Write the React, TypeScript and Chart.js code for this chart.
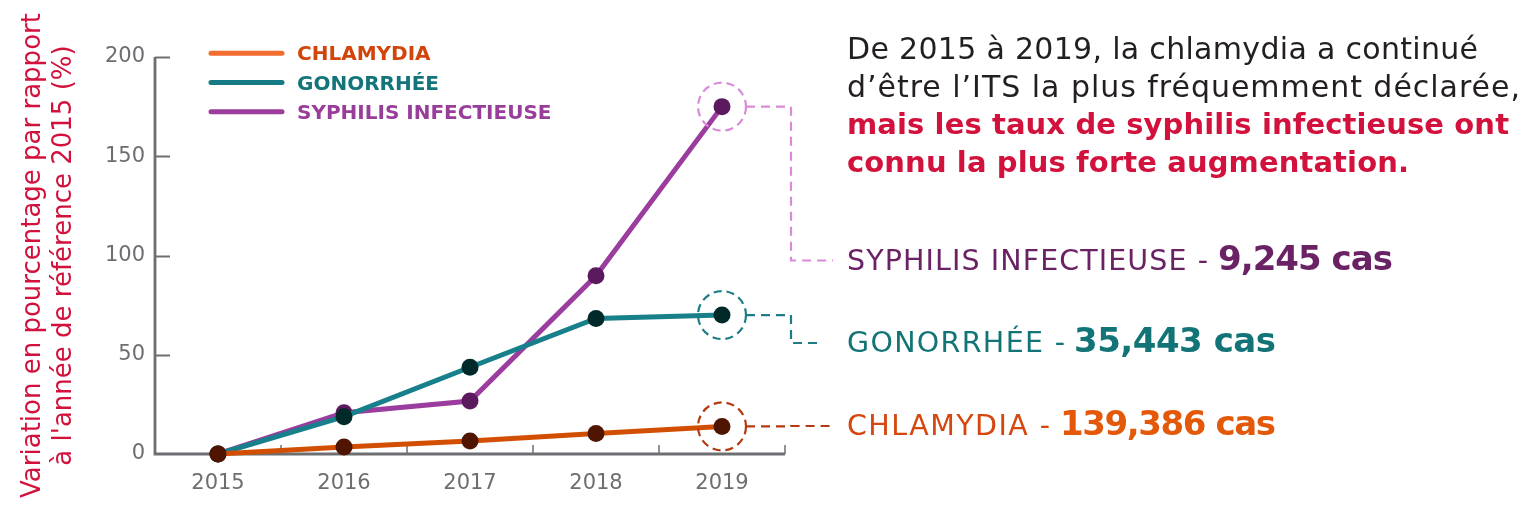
import React, { useEffect, useRef } from "react";
import { Chart, registerables } from "chart.js";

Chart.register(...registerables);

// ---------- data ----------
const years = ["2015", "2016", "2017", "2018", "2019"];
const seriesNames = ["CHLAMYDIA", "GONORRHÉE", "SYPHILIS INFECTIEUSE"];
const chlamydia = [0, 3.5, 6.5, 10.3, 13.9];
const gonorrhee = [0, 18.8, 43.7, 68.3, 70];
const syphilis = [0, 20.8, 26.7, 89.8, 175];
const caseCounts = ["139,386 cas", "35,443 cas", "9,245 cas"];
const yTickValues = [0, 50, 100, 150, 200];
const yTitle = ["Variation en pourcentage par rapport", "à l'année de référence 2015 (%)"];
const paragraphRegular = ["De 2015 à 2019, la chlamydia a continué", "d’être l’ITS la plus fréquemment déclarée,"];
const paragraphBold = ["mais les taux de syphilis infectieuse ont", "connu la plus forte augmentation."];

// ---------- styles ----------
const FONT = "'DejaVu Sans', sans-serif";
const GRAY = "#6d6e71";
const RED = "#d2123c";
const lineColors = ["#d24f02", "#17808a", "#9b3d9e"];
const pointColors = ["#4f1500", "#002a2a", "#5b1a5d"];
const legendLineColors = ["#f36c2f", "#167b86", "#9b3e9c"];
const legendTextColors = ["#d3440a", "#13757a", "#983d99"];
const ringColors = ["#b43a10", "#1d7d86", "#d98ad9"];
const labelRegularColors = ["#d5470e", "#127476", "#6a2265"];
const labelBoldColors = ["#e4580a", "#127476", "#6a2265"];
const labelBaselines = [435, 352, 269.5];
const labelRegularLengths = [203, 218, 361];
const labelBoldX = [1060, 1074, 1218];
const labelBoldLengths = [216, 202, 175];
const connectorEnds = [833, 823, 833];
const paraLengths = [631, 673, 662, 562];

const seriesData = [chlamydia, gonorrhee, syphilis];

const decorPlugin = {
  id: "decor",
  beforeDatasetsDraw(chart: any) {
    const { ctx, chartArea: a, scales } = chart;
    const x = scales.x;
    const y = scales.y;
    ctx.save();
    ctx.strokeStyle = GRAY;
    ctx.lineCap = "butt";
    // y ticks (inward)
    ctx.lineWidth = 2;
    yTickValues.forEach((v) => {
      if (v === 0) return;
      const py = Math.round(y.getPixelForValue(v)) + 0.5;
      ctx.beginPath();
      ctx.moveTo(a.left, py);
      ctx.lineTo(a.left + 15, py);
      ctx.stroke();
    });
    // x ticks (inward, on category boundaries)
    ctx.lineWidth = 1.5;
    for (let i = 0; i < years.length; i++) {
      const px = x.getPixelForValue(i + 0.5);
      ctx.beginPath();
      ctx.moveTo(px, a.bottom);
      ctx.lineTo(px, a.bottom - 9);
      ctx.stroke();
    }
    // axis lines
    ctx.lineWidth = 2.8;
    ctx.lineJoin = "miter";
    ctx.beginPath();
    ctx.moveTo(a.left, y.getPixelForValue(200));
    ctx.lineTo(a.left, a.bottom);
    ctx.lineTo(a.right, a.bottom);
    ctx.stroke();
    ctx.restore();
  },
  afterDatasetsDraw(chart: any) {
    const { ctx } = chart;
    ctx.save();
    // rings + connectors
    for (let i = 0; i < seriesData.length; i++) {
      const meta = chart.getDatasetMeta(i);
      const pt = meta.data[meta.data.length - 1];
      const px = pt.x;
      const py = pt.y;
      ctx.strokeStyle = ringColors[i];
      ctx.lineWidth = 2.2;
      ctx.setLineDash([8, 5]);
      ctx.beginPath();
      ctx.arc(px, py, 24, 0, Math.PI * 2);
      ctx.stroke();
      const ly = labelBaselines[i] - 9;
      ctx.setLineDash([9, 6]);
      ctx.beginPath();
      ctx.moveTo(px + 24, py);
      ctx.lineTo(px + 69, py);
      ctx.lineTo(px + 69, ly);
      ctx.lineTo(connectorEnds[i], ly);
      ctx.stroke();
    }
    ctx.setLineDash([]);
    // legend
    for (let i = 0; i < seriesNames.length; i++) {
      const ly = 53.3 + i * 29.2;
      ctx.strokeStyle = legendLineColors[i];
      ctx.lineWidth = 5;
      ctx.lineCap = "round";
      ctx.beginPath();
      ctx.moveTo(211, ly);
      ctx.lineTo(282, ly);
      ctx.stroke();
      ctx.fillStyle = legendTextColors[i];
      ctx.font = `bold 20px ${FONT}`;
      ctx.textBaseline = "alphabetic";
      ctx.textAlign = "left";
      ctx.fillText(seriesNames[i], 297, ly + 7);
    }
    ctx.restore();
  },
};

export default function App() {
  const canvasRef = useRef<HTMLCanvasElement | null>(null);

  useEffect(() => {
    if (!canvasRef.current) return;
    const chart = new Chart(canvasRef.current, {
      type: "line",
      data: {
        labels: years,
        datasets: seriesNames.map((name, i) => ({
          label: name,
          data: seriesData[i],
          borderColor: lineColors[i],
          backgroundColor: lineColors[i],
          borderWidth: 5,
          pointRadius: 8.5,
          pointHoverRadius: 8.5,
          pointBackgroundColor: pointColors[i],
          pointBorderWidth: 0,
          tension: 0,
          fill: false,
          clip: false,
        })),
      },
      options: {
        responsive: false,
        animation: false,
        events: [],
        layout: { padding: { top: 57, right: 741, bottom: 0, left: 0 } },
        plugins: {
          legend: { display: false },
          tooltip: { enabled: false },
        },
        scales: {
          x: {
            type: "category",
            offset: true,
            grid: { display: false, drawTicks: false },
            border: { display: false },
            ticks: { color: GRAY, font: { family: FONT, size: 21 }, padding: 17 },
            afterFit: (s: any) => {
              s.height = 60;
            },
          },
          y: {
            min: 0,
            max: 200,
            grid: { display: false, drawTicks: false },
            border: { display: false },
            ticks: { stepSize: 50, color: GRAY, font: { family: FONT, size: 21 }, padding: 10 },
            title: {
              display: true,
              text: yTitle,
              color: RED,
              font: { family: FONT, size: 26, lineHeight: 1.2 },
              padding: { top: 17.4, bottom: 0 },
            },
            afterFit: (s: any) => {
              s.width = 155;
            },
          },
        },
      },
      plugins: [decorPlugin],
    } as any);
    return () => chart.destroy();
  }, []);

  return (
    <div style={{ position: "absolute", left: 0, top: 0, width: 1526, height: 514, background: "#fff" }}>
      <canvas ref={canvasRef} width={1526} height={514} style={{ position: "absolute", left: 0, top: 0, width: 1526, height: 514 }} />
      <svg width={1526} height={514} style={{ position: "absolute", left: 0, top: 0, pointerEvents: "none" }}>
        {paragraphRegular.map((t, i) => (
          <text key={"r" + i} x={847} y={59.3 + i * 37.5} fontFamily={FONT} fontSize={30} fill="#231f20" textLength={paraLengths[i]} lengthAdjust="spacing">
            {t}
          </text>
        ))}
        {paragraphBold.map((t, i) => (
          <text key={"b" + i} x={847} y={134.3 + i * 37.5} fontFamily={FONT} fontSize={29} fontWeight="bold" fill={RED} textLength={paraLengths[i + 2]} lengthAdjust="spacing">
            {t}
          </text>
        ))}
        {seriesNames.map((name, i) => (
          <g key={"l" + i}>
            <text x={847} y={labelBaselines[i]} fontFamily={FONT} fontSize={28.5} fill={labelRegularColors[i]} textLength={labelRegularLengths[i]} lengthAdjust="spacing">
              {name + " -"}
            </text>
            <text x={labelBoldX[i]} y={labelBaselines[i]} fontFamily={FONT} fontSize={34} fontWeight="bold" fill={labelBoldColors[i]} textLength={labelBoldLengths[i]} lengthAdjust="spacing">
              {caseCounts[i]}
            </text>
          </g>
        ))}
      </svg>
    </div>
  );
}
